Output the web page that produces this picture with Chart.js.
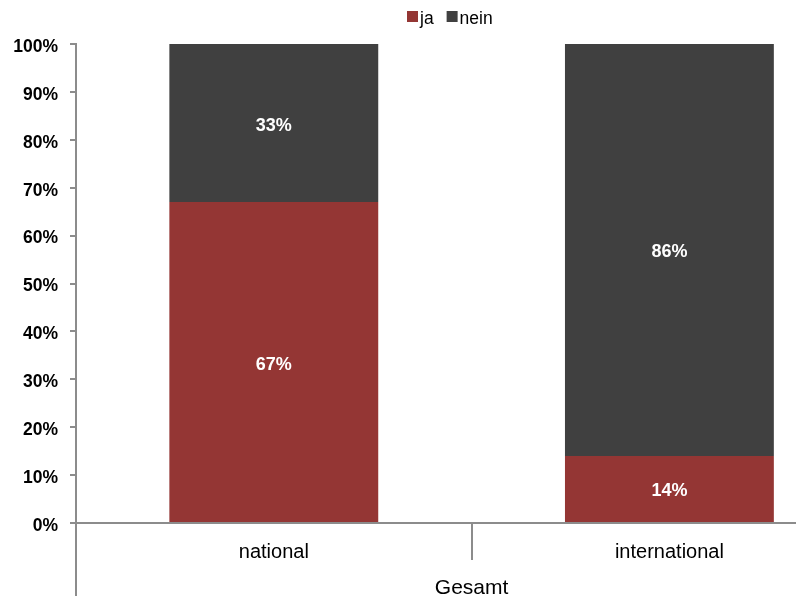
<!DOCTYPE html>
<html>
<head>
<meta charset="utf-8">
<script src="https://cdn.jsdelivr.net/npm/chart.js@4/dist/chart.umd.min.js"></script>
<style>
html,body{margin:0;padding:0;background:#fff;overflow:hidden;}
canvas{display:block;}
</style>
</head>
<body>
<canvas id="c" width="796" height="596"></canvas>
<script>
// ---- data ----
const categories = ['national', 'international'];
const groupLabel = 'Gesamt';
const seriesNames = ['ja', 'nein'];
const jaValues = [67, 14];
const neinValues = [33, 86];
const yTicks = [0, 10, 20, 30, 40, 50, 60, 70, 80, 90, 100];

const colors = ['#943634', '#404040'];
const FONT = '"Liberation Sans", Arial, sans-serif';
Chart.defaults.font.family = FONT;

function toPoints(vals) { return vals.map((v, i) => ({ x: i, y: v })); }

const extras = {
  id: 'extras',
  afterDatasetsDraw(chart) {
    const ctx = chart.ctx;
    ctx.save();
    ctx.fillStyle = '#ffffff';
    ctx.font = 'bold 18px ' + FONT;
    ctx.textAlign = 'center';
    ctx.textBaseline = 'middle';
    chart.data.datasets.forEach((ds, di) => {
      const meta = chart.getDatasetMeta(di);
      meta.data.forEach((el, i) => {
        const v = ds.data[i].y;
        ctx.fillText(v + '%', el.x, (el.y + el.base) / 2 + 2.5);
      });
    });
    ctx.restore();
  },
  afterDraw(chart) {
    const ctx = chart.ctx;
    const xs = chart.scales.x;
    const area = chart.chartArea;
    ctx.save();
    ctx.strokeStyle = '#8c8c8c';
    ctx.lineWidth = 2;
    ctx.beginPath();
    ctx.moveTo(area.left, area.bottom);
    ctx.lineTo(area.left, chart.height);
    ctx.stroke();
    for (let i = 0; i < categories.length - 1; i++) {
      const px = Math.round(xs.getPixelForValue(i + 0.5));
      ctx.beginPath();
      ctx.moveTo(px, area.bottom);
      ctx.lineTo(px, area.bottom + 37);
      ctx.stroke();
    }
    ctx.fillStyle = '#000';
    ctx.font = '21px ' + FONT;
    ctx.textAlign = 'center';
    ctx.textBaseline = 'middle';
    ctx.fillText(groupLabel, xs.getPixelForValue((categories.length - 1) / 2), 588);
    // legend
    ctx.font = '17.5px ' + FONT;
    ctx.textAlign = 'left';
    let lx = 407;
    const ly = 17;
    chart.data.datasets.forEach((ds) => {
      ctx.fillStyle = ds.backgroundColor;
      ctx.fillRect(lx, ly - 6, 11, 11);
      ctx.fillStyle = '#000';
      ctx.fillText(ds.label, lx + 13, ly + 2);
      lx += 13 + ctx.measureText(ds.label).width + 13;
    });
    ctx.restore();
  }
};

new Chart(document.getElementById('c'), {
  type: 'bar',
  data: {
    datasets: [
      { label: seriesNames[0], data: toPoints(jaValues), backgroundColor: colors[0], borderWidth: 0 },
      { label: seriesNames[1], data: toPoints(neinValues), backgroundColor: colors[1], borderWidth: 0 }
    ]
  },
  options: {
    responsive: false,
    animation: false,
    categoryPercentage: 1,
    barPercentage: 0.528,
    layout: { padding: { top: 44, right: 0, left: 0, bottom: 0 } },
    plugins: { legend: { display: false }, tooltip: { enabled: false } },
    scales: {
      x: {
        type: 'linear',
        stacked: true,
        offset: false,
        min: -0.5,
        max: 1.32,
        afterBuildTicks: (s) => { s.ticks = categories.map((c, i) => ({ value: i })); },
        afterFit: (s) => { s.height = 73; },
        grid: { display: false, drawTicks: false, offset: false },
        border: { display: true, color: '#8c8c8c', width: 2 },
        ticks: {
          autoSkip: false,
          maxRotation: 0,
          padding: 17,
          color: '#000',
          font: { size: 20 },
          callback: (v) => categories[v] !== undefined ? categories[v] : ''
        }
      },
      y: {
        stacked: true,
        min: 0,
        max: 100,
        afterBuildTicks: (s) => { s.ticks = yTicks.map(v => ({ value: v })); },
        afterFit: (s) => { s.width = 76; },
        grid: { display: true, drawOnChartArea: false, tickLength: 6, color: '#8c8c8c', lineWidth: 2 },
        border: { display: true, color: '#8c8c8c', width: 2 },
        ticks: {
          padding: 12,
          labelOffset: 3,
          color: '#000',
          font: { size: 17.5, weight: 'bold' },
          callback: (v) => v + '%'
        }
      }
    }
  },
  plugins: [extras]
});
</script>
</body>
</html>
